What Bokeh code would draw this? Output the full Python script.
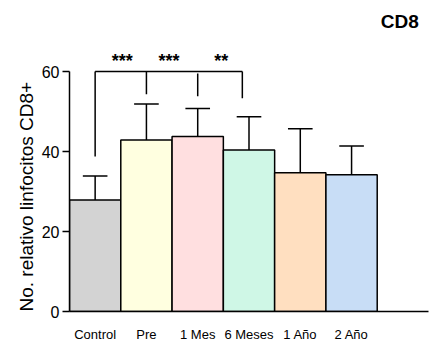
from bokeh.plotting import figure
from bokeh.models import Range1d, FixedTicker, ColumnDataSource, Title
from bokeh.core.properties import value
from bokeh.embed import file_html
from bokeh.resources import INLINE

categories = ["Control", "Pre", "1 Mes", "6 Meses", "1 Año", "2 Año"]
means = [27.9, 42.9, 43.75, 40.4, 34.7, 34.2]
sd = [6.0, 9.0, 7.0, 8.3, 11.0, 7.2]
colors = ["#D3D3D3", "#FFFFE0", "#FFDFE0", "#CFF7E6", "#FFDFC0", "#C8DDF6"]
y_ticks = [0, 20, 40, 60]

# significance bracket (values in axis units)
bracket_x = [0.5, 1.5, 2.5, 3.37]
bracket_bottom = [38.75, 54.3, 53.8, 53.3]
bracket_top = [60, 60, 59.5, 60]
stars = ["***", "***", "**"]
stars_x = [1.03, 1.94, 2.96]

FONT = "Liberation Sans"

xs = [i + 0.5 for i in range(len(categories))]
src = ColumnDataSource(dict(x=xs, top=means, color=colors,
                            up=[m + s for m, s in zip(means, sd)],
                            cl=[x - 0.24 for x in xs], cr=[x + 0.24 for x in xs]))

p = figure(width=429, height=353, output_backend="svg", toolbar_location=None,
           x_range=Range1d(0, 7), y_range=Range1d(0, 75))
p.min_border_left = 69
p.min_border_right = 1
p.min_border_top = 11
p.min_border_bottom = 42
p.outline_line_color = None
p.grid.grid_line_color = None
p.background_fill_color = "white"
p.border_fill_color = "white"

p.segment(x0="x", y0="top", x1="x", y1="up", source=src, line_color="black", line_width=1.5)
p.segment(x0="cl", y0="up", x1="cr", y1="up", source=src, line_color="black", line_width=1.5)
p.vbar(x="x", top="top", bottom=0, width=1.0, fill_color="color", line_color="black",
       line_width=1.5, source=src)

# bracket
p.segment(x0=[bracket_x[0]], y0=[60], x1=[bracket_x[-1]], y1=[60], line_color="black", line_width=1.5)
p.segment(x0=bracket_x, y0=bracket_top, x1=bracket_x, y1=bracket_bottom, line_color="black", line_width=1.5)
p.text(x=stars_x, y=[62.75] * len(stars), text=stars, text_align="center",
       text_baseline="alphabetic", text_font=value(FONT), text_font_size="18px",
       text_font_style="bold", text_color="black")

p.text(x=[6.81], y=[72.4], text=["CD8"], text_align="right", text_baseline="alphabetic",
       text_font=value(FONT), text_font_size="19px", text_font_style="bold", text_color="black")

# x axis
p.xaxis.ticker = FixedTicker(ticks=xs)
p.xaxis.major_label_overrides = {x: c for x, c in zip(xs, categories)}
p.xaxis.major_tick_line_color = None
p.xaxis.minor_tick_line_color = None
p.xaxis.axis_line_width = 1.5
p.xaxis.axis_line_color = "black"
p.xaxis.major_label_text_font = FONT
p.xaxis.major_label_text_font_size = "13px"
p.xaxis.major_label_text_color = "black"
p.xaxis.major_label_standoff = 9

# y axis
p.yaxis.ticker = FixedTicker(ticks=y_ticks)
p.yaxis.bounds = (0, 60)
p.yaxis.minor_tick_line_color = None
p.yaxis.major_tick_out = 7
p.yaxis.major_tick_in = 0
p.yaxis.major_tick_line_width = 1.5
p.yaxis.axis_line_width = 1.5
p.yaxis.axis_line_color = "black"
p.yaxis.major_tick_line_color = "black"
p.yaxis.major_label_text_font = FONT
p.yaxis.major_label_text_font_size = "16px"
p.yaxis.major_label_text_color = "black"
p.yaxis.major_label_standoff = 3

ylab = Title(text="No. relativo linfocitos CD8+", align="left", offset=0,
             text_font=FONT, text_font_size="19px", text_font_style="normal",
             text_color="black", standoff=3)
p.add_layout(ylab, "left")

open("out.html", "w").write(file_html(p, INLINE))
